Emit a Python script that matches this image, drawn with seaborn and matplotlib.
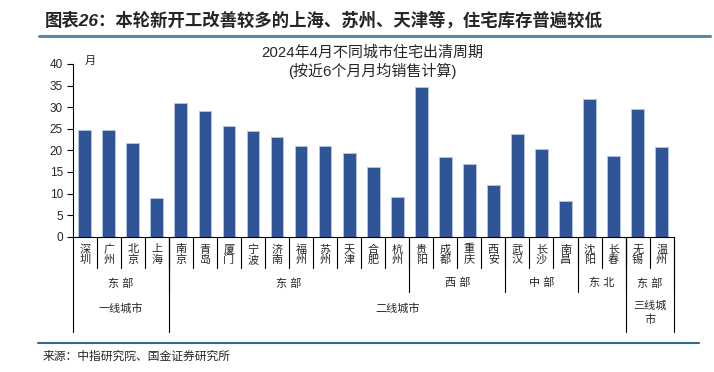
import matplotlib
matplotlib.use('Agg')
import matplotlib.pyplot as plt
import matplotlib.transforms as mtransforms
from matplotlib.lines import Line2D
import pandas as pd
import seaborn as sns

# 数据
cities = ['深圳', '广州', '北京', '上海', '南京', '青岛', '厦门', '宁波', '济南', '福州',
          '苏州', '天津', '合肥', '杭州', '贵阳', '成都', '重庆', '西安', '武汉', '长沙',
          '南昌', '沈阳', '长春', '无锡', '温州']
months = [24.8, 24.8, 21.8, 9.0, 31.0, 29.0, 25.6, 24.4, 23.0, 21.1,
          20.9, 19.5, 16.2, 9.2, 34.7, 18.5, 16.8, 11.9, 23.8, 20.3,
          8.2, 31.8, 18.7, 29.6, 20.7]
region_names = ['东部', '东部', '西部', '中部', '东北', '东部']
region_sizes = [4, 10, 4, 3, 2, 2]
tier_names = ['一线城市', '二线城市', '三线城\n市']
tier_sizes = [4, 19, 2]

bar_color = '#2F5597'

sns.set_theme(style='white')
plt.rcParams['font.family'] = ['Liberation Sans', 'Noto Sans CJK SC', 'DejaVu Sans']
plt.rcParams['axes.unicode_minus'] = False

df = pd.DataFrame({'city': cities, 'months': months})

fig = plt.figure(figsize=(7.14, 3.72), dpi=100)
ax = fig.add_axes([0.1018, 0.3637, 0.8417, 0.4643])

sns.barplot(data=df, x='city', y='months', color=bar_color, saturation=1,
            width=0.53, edgecolor='#b4c7e7', linewidth=0.6, ax=ax)

ax.set_xlim(-0.5, len(cities) - 0.5)
ax.set_ylim(0, 40)
ax.set_yticks(range(0, 41, 5))
ax.set_xlabel('')
ax.set_ylabel('')
ax.set_xticks([])
for s in ['top', 'right']:
    ax.spines[s].set_visible(False)
for s in ['left', 'bottom']:
    ax.spines[s].set_color('black')
    ax.spines[s].set_linewidth(0.8)
ax.tick_params(axis='y', which='both', left=True, length=4, width=0.8,
               color='black', labelsize=8.5, pad=3)

ax.text(0.029, 1.02, '月', transform=ax.transAxes, fontsize=8, ha='center', va='center')

# 城市标签与分隔线
trans = mtransforms.blended_transform_factory(ax.transData, ax.transAxes)
y_row1, y_row2, y_row3 = -0.181, -0.320, -0.552

def vline(x, y_end):
    ax.add_line(Line2D([x, x], [0, y_end], transform=trans, clip_on=False,
                       color='black', lw=0.8))

for i, c in enumerate(cities):
    ax.text(i, -0.105, '\n'.join(c), transform=trans, ha='center', va='center',
            fontsize=8, linespacing=1.05)
    if i > 0:
        vline(i - 0.5, y_row1)

start = 0
for name, n in zip(region_names, region_sizes):
    ax.text(start + (n - 1) / 2, -0.269, ' '.join(name), transform=trans,
            ha='center', va='center', fontsize=8)
    vline(start + n - 0.5, y_row2)
    start += n

start = 0
vline(-0.5, y_row3)
for name, n in zip(tier_names, tier_sizes):
    ax.text(start + (n - 1) / 2, -0.44 if '\n' in name else -0.413, name, transform=trans,
            ha='center', va='center', fontsize=8, linespacing=1.5)
    vline(start + n - 0.5, y_row3)
    start += n

# 标题
fig.text(0.522, 1 - 53 / 372, '2024年4月不同城市住宅出清周期', ha='center', va='center', fontsize=10.8)
fig.text(0.522, 1 - 71 / 372, '(按近6个月月均销售计算)', ha='center', va='center', fontsize=10.8)

fig.text(0.062, 1 - 20 / 372, '图表26：本轮新开工改善较多的上海、苏州、天津等，住宅库存普遍较低',
         ha='left', va='center', fontsize=12.5, fontweight='bold', style='italic')
fig.add_artist(Line2D([0.055, 0.995], [1 - 36 / 372] * 2, transform=fig.transFigure,
                      color='#5f8aa6', lw=2.2))
fig.add_artist(Line2D([0.053, 0.979], [1 - 342.5 / 372] * 2, transform=fig.transFigure,
                      color='#2f6a8f', lw=1.5))
fig.text(0.059, 1 - 357 / 372, '来源：中指研究院、国金证券研究所', ha='left', va='center', fontsize=8.5)

plt.savefig('out.png', dpi=100)
